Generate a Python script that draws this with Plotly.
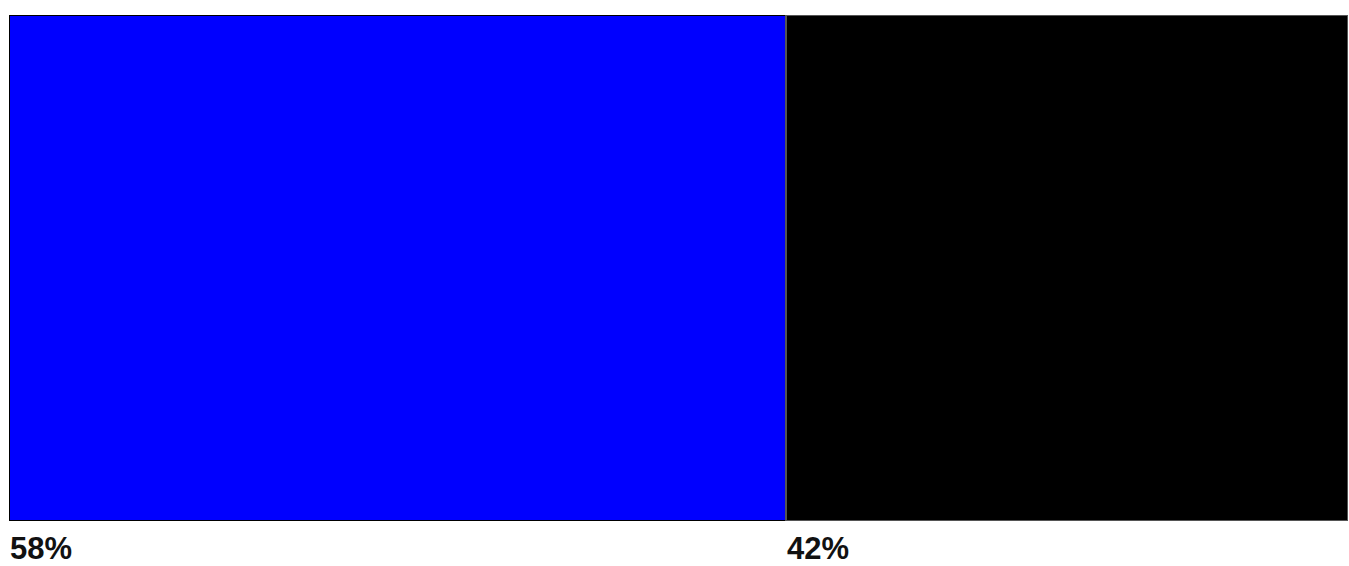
import plotly.graph_objects as go

categories = ["A", "B"]
values = [58, 42]
labels = ["58%", "42%"]
colors = ["#0000ff", "#000000"]

fig = go.Figure()
for cat, v, c in zip(categories, values, colors):
    fig.add_trace(go.Bar(
        y=[""], x=[v], orientation="h", name=cat,
        marker=dict(color=c, line=dict(color="#000000" if c != "#000000" else "#555555", width=2)),
        showlegend=False, hoverinfo="skip",
    ))

cum = 0
for v, lab in zip(values, labels):
    fig.add_annotation(x=cum, y=0, xref="x", yref="paper", yshift=-9,
                       text=f"<b>{lab}</b>", showarrow=False,
                       xanchor="left", yanchor="top", borderpad=0,
                       font=dict(family="Liberation Sans, Arial, sans-serif", size=31, color="#111111"))
    cum += v

fig.update_layout(
    width=1349, height=566,
    barmode="stack", bargap=0,
    margin=dict(l=9, r=1, t=15, b=45),
    plot_bgcolor="white", paper_bgcolor="white",
    xaxis=dict(range=[0, 100], visible=False, fixedrange=True),
    yaxis=dict(visible=False, fixedrange=True),
)
fig.write_html("out.html")
